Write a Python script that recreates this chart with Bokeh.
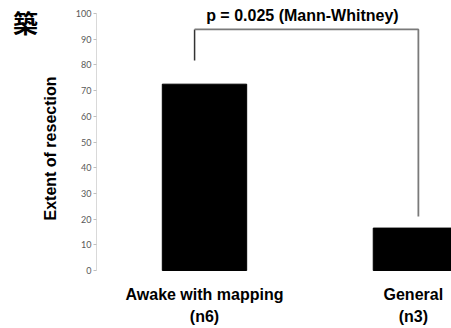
from bokeh.plotting import figure
from bokeh.models import Range1d, FixedTicker, ColumnDataSource
from bokeh.layouts import row
from bokeh.core.properties import value
from bokeh.embed import file_html
from bokeh.resources import INLINE
import math

# Data
categories = ["Awake with mapping", "General"]
group_sizes = ["(n6)", "(n3)"]
extent = [72.5, 16.5]
y_ticks = [0, 10, 20, 30, 40, 50, 60, 70, 80, 90, 100]
p_text = "p = 0.025 (Mann-Whitney)"
corner_char = "築"
y_title = "Extent of resection"

bar_x = [0, 1]
label_x = [0, 0.99]

LEFT_W = 60
TOTAL_W = 451
H = 328

# left strip: corner character and y-axis title
q = figure(width=LEFT_W, height=H, output_backend="svg", toolbar_location=None,
           x_axis_location=None, y_axis_location=None,
           x_range=Range1d(0, LEFT_W), y_range=Range1d(H, 0),
           min_border=0)
q.outline_line_color = None
q.grid.visible = False
q.text(x=[25], y=[21], text=[corner_char], text_font=value("Noto Sans CJK JP"),
       text_font_style="bold", text_font_size="25px", text_align="center",
       text_baseline="middle", text_color="black")
q.text(x=[50], y=[148], text=[y_title], angle=math.pi / 2,
       text_font=value("Liberation Sans"), text_font_style="bold",
       text_font_size="16px", text_align="center", text_baseline="middle",
       text_color="black")

# main chart
p = figure(width=TOTAL_W - LEFT_W, height=H, output_backend="svg", toolbar_location=None,
           x_axis_location=None, y_axis_location="left",
           x_range=Range1d(-0.512, 1.171), y_range=Range1d(-22.57, 105.06),
           min_border_left=96 - LEFT_W, min_border_right=0, min_border_top=0,
           min_border_bottom=0)
p.outline_line_color = None
p.grid.visible = False

p.vbar(x=bar_x, top=extent, bottom=0, width=0.4, color="black")

ax = p.yaxis[0]
ax.ticker = FixedTicker(ticks=y_ticks)
ax.bounds = (0, 100)
ax.axis_line_color = "#d9d9d9"
ax.axis_line_width = 1
ax.major_tick_line_color = "#bfbfbf"
ax.major_tick_out = 3
ax.major_tick_in = 0
ax.minor_tick_line_color = None
ax.major_label_standoff = 2
ax.major_label_text_font = "Lato"
ax.major_label_text_font_size = "9px"
ax.major_label_text_color = "#595959"

# significance bracket
p.line(x=[-0.047, -0.047], y=[81.7, 93.8], line_color="#333333", line_width=1.5)
p.line(x=[-0.047, 1.014, 1.014], y=[93.8, 93.8, 21.0], line_color="#7a7a7a", line_width=1.8)

p.text(x=[0.464], y=[99.2], text=[p_text], text_font=value("Liberation Sans"),
       text_font_style="bold", text_font_size="16px", text_align="center",
       text_baseline="middle", text_color="black")

src = ColumnDataSource(dict(x=label_x, y1=[-9.5] * 2, y2=[-18.0] * 2,
                            c=categories, n=group_sizes))
p.text(x="x", y="y1", text="c", source=src, text_font=value("Liberation Sans"),
       text_font_style="bold", text_font_size="16px", text_align="center",
       text_baseline="middle", text_color="black")
p.text(x="x", y="y2", text="n", source=src, text_font=value("Liberation Sans"),
       text_font_style="bold", text_font_size="16px", text_align="center",
       text_baseline="middle", text_color="black")

layout = row(q, p, spacing=0)
open("out.html", "w").write(file_html(layout, INLINE))
